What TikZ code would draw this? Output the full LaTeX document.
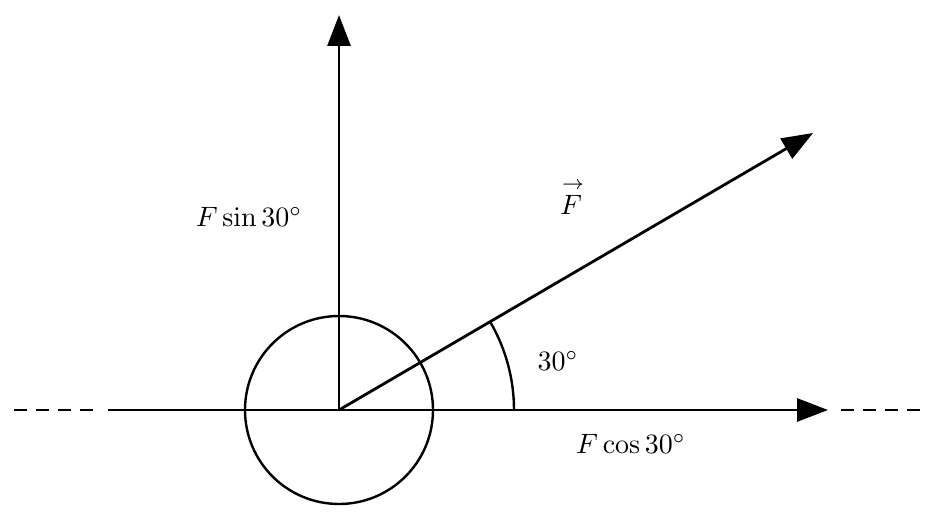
\documentclass[tikz,border=0pt]{standalone}
\usetikzlibrary{arrows.meta}
\tikzset{
  vecline/.style={line width=2.8pt,-{Triangle[length=31pt,width=23pt]}},
  plainline/.style={line width=2.8pt},
  dashline/.style={line width=2.8pt,dash pattern=on 13pt off 9pt},
  lbl/.style={inner sep=0pt}
}
\newcommand{\bigtxt}[1]{\scalebox{2.8}{#1}}
\begin{document}
\begin{tikzpicture}[x=1pt,y=-1pt]
\useasboundingbox (0,0) rectangle (934,521);
\coordinate (O) at (339,410);
\coordinate (L) at (108,410);
\coordinate (XT) at (828,410);
\coordinate (YT) at (339,15);
\coordinate (FT) at (813,133);
\coordinate (DL1) at (14,410);
\coordinate (DL2) at (93,410);
\coordinate (DR1) at (841,410);
\coordinate (DR2) at (920,410);
\coordinate (A1) at (514,410);
% circle
\node[draw,line width=2.4pt,circle,minimum size=188pt,inner sep=0pt] (C) at (O) {};
% dashed extensions
\draw[dashline] (DL1) -- (DL2);
\draw[dashline] (DR1) -- (DR2);
% axis and components
\draw[plainline] (L) -- (O);
\draw[vecline] (O) -- (XT);
\draw[vecline] (O) -- (YT);
\draw[vecline] (O) -- (FT);
% angle arc
\draw[line width=2.4pt] (A1) arc[start angle=0,end angle=-30,radius=175];
% labels
\node[lbl] (ls) at (249,217) {\bigtxt{$F\sin 30^\circ$}};
\node[lbl] (lc) at (631,444) {\bigtxt{$F\cos 30^\circ$}};
\node[lbl] (lf) at (571,197) {\bigtxt{$\stackrel{\rightarrow}{F}$}};
\node[lbl] (la) at (558,361) {\bigtxt{$30^\circ$}};
\end{tikzpicture}
\end{document}
